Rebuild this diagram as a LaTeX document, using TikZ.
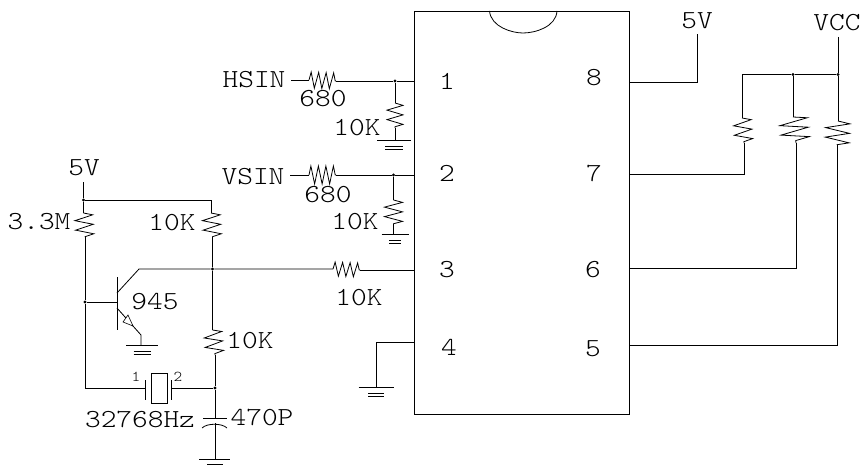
\documentclass[tikz,border=0pt]{standalone}
\usetikzlibrary{decorations.pathmorphing}

\tikzset{
    wire/.style={line width=0.8pt},
    res/.style={line width=0.8pt,decorate,decoration={zigzag,segment length=7.5,amplitude=#1}},
    vres/.style={line width=0.8pt,decorate,decoration={zigzag,segment length=9.5,amplitude=#1}},
    dot/.style={circle,fill=black,inner sep=0pt,minimum size=3.4pt},
    lbl/.style={inner sep=0pt,font=\ttfamily\fontseries{l}\fontsize{26}{26}\selectfont,transform shape,xscale=1.15},
    tiny lbl/.style={inner sep=0pt,font=\ttfamily\fontseries{l}\fontsize{15}{15}\selectfont,transform shape,xscale=1.1},
}
\newcommand{\gnd}[4]{% centre x, y of the long bar, half widths
    \draw[wire] (#1-#3,#2) -- (#1+#3,#2);
    \draw[wire,line width=0.6pt] (#1-#4,#2+6) -- (#1+#4,#2+6);
    \draw[wire,line width=0.6pt] (#1-#4,#2+9.5) -- (#1+#4,#2+9.5);
}

\begin{document}
\begin{tikzpicture}[x=1pt,y=-1pt]
    \useasboundingbox (0,0) rectangle (861,465);

    % the chip
    \draw[wire] (414,11) rectangle (629.5,414);
    \draw[wire] (489.5,11) .. controls (491,27) and (512,33) .. (523,33) .. controls (535,33) and (556,27) .. (557,11);
    \coordinate (pa1) at (414,81);  \coordinate (pa2) at (414,175);
    \coordinate (pa3) at (414,270); \coordinate (pa4) at (414,342);
    \coordinate (pb8) at (629.5,82);  \coordinate (pb7) at (629.5,174);
    \coordinate (pb6) at (629.5,268); \coordinate (pb5) at (629.5,345);
    \node[lbl] (n1) at (447,81) {1};
    \node[lbl] (n2) at (447,173) {2};
    \node[lbl] (n3) at (447,270) {3};
    \node[lbl] (n4) at (449,347) {4};
    \node[lbl] (n8) at (594,78) {8};
    \node[lbl] (n7) at (594,173) {7};
    \node[lbl] (n6) at (593,270) {6};
    \node[lbl] (n5) at (593,349) {5};

    % HSIN
    \node[lbl] (hsin) at (254,80) {HSIN};
    \node[lbl] (hval) at (323,99) {680};
    \node[lbl] (hkval) at (357,128) {10K};
    \coordinate (hl) at (291,80);
    \coordinate (ha) at (309,80); \coordinate (hb) at (336,81);
    \node[dot] (hj) at (395,81) {};
    \coordinate (hc) at (395,103); \coordinate (hd) at (395,128); \coordinate (he) at (395,140);
    \draw[wire] (hl) -- (ha);
    \draw[res=8] (ha) -- (hb);
    \draw[wire] (hb) -- (hj) -- (pa1);
    \draw[wire] (hj) -- (hc);
    \draw[vres=8] (hc) -- (hd);
    \draw[wire] (hd) -- (he);
    \gnd{394}{140}{17}{9}

    % VSIN
    \node[lbl] (vsin) at (253,177) {VSIN};
    \node[lbl] (vval) at (328,195) {680};
    \node[lbl] (vkval) at (355,222) {10K};
    \coordinate (vl) at (290,175);
    \coordinate (va) at (309,175); \coordinate (vb) at (336,175);
    \node[dot] (vj) at (393.5,175) {};
    \coordinate (vc) at (393.5,200); \coordinate (vd) at (393.5,224); \coordinate (ve) at (393.5,234);
    \draw[wire] (vl) -- (va);
    \draw[res=9] (va) -- (vb);
    \draw[wire] (vb) -- (vj) -- (pa2);
    \draw[wire] (vj) -- (vc);
    \draw[vres=9] (vc) -- (vd);
    \draw[wire] (vd) -- (ve);
    \gnd{395}{234}{13.5}{6}

    % pin 3 side
    \node[lbl] (fivel) at (84,168) {5V};
    \node[lbl] (rbval) at (39,222) {3.3M};
    \node[lbl] (rcval) at (172,223) {10K};
    \node[lbl] (rval) at (359,298) {10K};
    \node[lbl] (qval) at (155,302) {945};
    \node[lbl] (rdval) at (250,341) {10K};
    \node[dot] (tj) at (83.5,200) {};
    \coordinate (ttop) at (83.5,182);
    \coordinate (tr) at (211,200);
    \coordinate (rba) at (83.5,213); \coordinate (rbb) at (85,237);
    \coordinate (rca) at (211,213); \coordinate (rcb) at (212.5,237);
    \node[dot] (bj) at (85,302) {};
    \node[dot] (cj) at (212.5,269) {};
    \coordinate (rxa) at (333,269); \coordinate (rxb) at (360,270);
    \coordinate (bar) at (117,302);
    \coordinate (cbend) at (139,269);
    \coordinate (ebend) at (141,335);
    \coordinate (egnd) at (141,345);
    \draw[wire] (ttop) -- (tj) -- (rba);
    \draw[wire] (tj) -- (tr) -- (rca);
    \draw[vres=9] (rba) -- (rbb);
    \draw[vres=9] (rca) -- (rcb);
    \draw[wire] (rcb) -- (cj);
    \draw[wire] (bj) -- (bar);
    \draw[wire] (117,277) -- (117,330);
    \draw[wire] (117,293) -- (cbend) -- (cj) -- (rxa);
    \draw[res=7] (rxa) -- (rxb);
    \draw[wire] (rxb) -- (pa3);
    \draw[wire] (117,308) -- (ebend) -- (egnd);
    \draw[wire,line width=0.6pt,fill=white] (133,326) -- (128,315) -- (123,322) -- cycle;
    \gnd{142}{345}{16}{8.5}

    % crystal and the 470P cap
    \node[lbl] (xval) at (140,419) {32768Hz};
    \node[lbl] (cval) at (262,417) {470P};
    \node[tiny lbl] (xl1) at (136,377) {1};
    \node[tiny lbl] (xl2) at (178,377) {2};
    \coordinate (rda) at (212.5,330); \coordinate (rdb) at (215,355);
    \node[dot] (xj) at (215,388) {};
    \coordinate (xcor) at (85,388);
    \coordinate (xa) at (145,388); \coordinate (xb) at (171,388);
    \coordinate (capa) at (215,418); \coordinate (capb) at (215,423);
    \coordinate (cgnd) at (215,459);
    \draw[wire] (cj) -- (rda);
    \draw[vres=9] (rda) -- (rdb);
    \draw[wire] (rdb) -- (xj) -- (capa);
    \draw[wire] (bj) -- (rbb);
    \draw[wire] (bj) -- (xcor) -- (xa);
    \draw[wire] (145,380) -- (145,400);
    \draw[wire] (151,373) rectangle (167,403);
    \draw[wire] (171,380) -- (171,400);
    \draw[wire] (xb) -- (xj);
    \draw[wire] (203,418) -- (227,418);
    \draw[wire] (202,428) .. controls (207,423) and (222,423) .. (227,428);
    \draw[wire] (capb) -- (cgnd);
    \draw[wire] (199,459) -- (230,459);
    \draw[wire] (207,464) -- (223,464);

    % pin 4
    \coordinate (fcor) at (376,342);
    \coordinate (fgnd) at (376,387);
    \draw[wire] (pa4) -- (fcor) -- (fgnd);
    \gnd{376}{387}{17.5}{8}

    % right hand side
    \node[lbl] (fiver) at (697,21) {5V};
    \node[lbl] (vcc) at (837,23) {VCC};
    \coordinate (p8a) at (697,82);
    \coordinate (p8b) at (697,34);
    \draw[wire] (pb8) -- (p8a) -- (p8b);
    \coordinate (vtop) at (838,37);
    \node[dot] (vj1) at (838,74.5) {};
    \node[dot] (vj2) at (793,74.5) {};
    \coordinate (vj3) at (742,74.5);
    \coordinate (ra) at (742,118); \coordinate (rb) at (744,143); \coordinate (rc) at (744,174);
    \coordinate (sa) at (793,117); \coordinate (sb) at (796,143); \coordinate (sc) at (796,268);
    \coordinate (ta) at (838,121); \coordinate (tb) at (837,145); \coordinate (tc) at (837,345);
    \draw[wire] (vtop) -- (vj1) -- (ta);
    \draw[wire] (vj1) -- (vj2) -- (vj3) -- (ra);
    \draw[wire] (vj2) -- (sa);
    \draw[vres=9] (ra) -- (rb);
    \draw[vres=14] (sa) -- (sb);
    \draw[vres=12] (ta) -- (tb);
    \draw[wire] (rb) -- (rc) -- (pb7);
    \draw[wire] (sb) -- (sc) -- (pb6);
    \draw[wire] (tb) -- (tc) -- (pb5);
\end{tikzpicture}
\end{document}
